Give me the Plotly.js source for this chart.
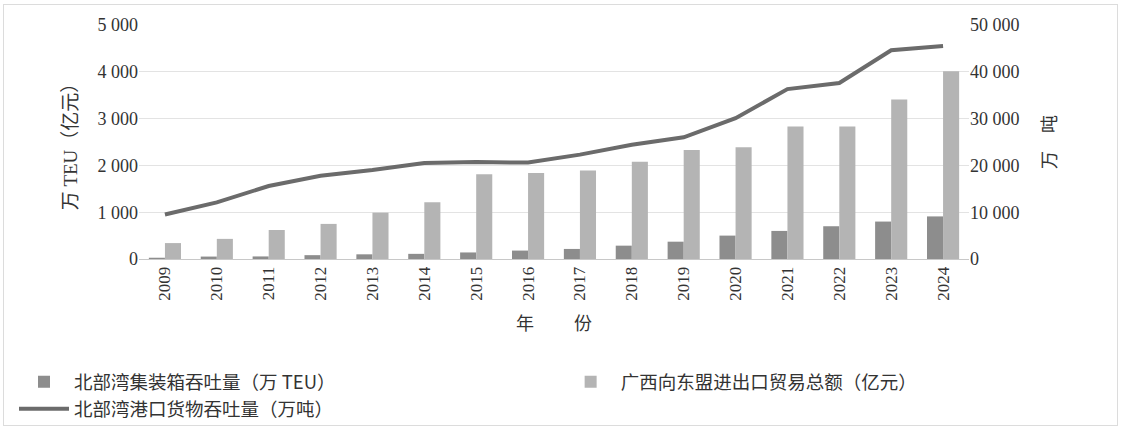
<!DOCTYPE html>
<html><head><meta charset="utf-8">
<script src="https://cdn.plot.ly/plotly-3.0.1.min.js"></script>
<style>
html,body{margin:0;padding:0;background:#fff;}
#frame{position:absolute;left:3px;top:4px;width:1113px;height:420px;border:1px solid #dcdcdc;}
#chart{position:absolute;left:0;top:0;width:1121px;height:429px;}
</style></head>
<body>
<div id="frame"></div>
<div id="chart"></div>
<script>
const years = ['2009','2010','2011','2012','2013','2014','2015','2016','2017','2018','2019','2020','2021','2022','2023','2024'];
const containerTEU = [27, 52, 55, 82, 100, 110, 140, 180, 215, 285, 370, 500, 600, 700, 800, 910];
const tradeASEAN = [340, 430, 620, 750, 990, 1210, 1810, 1840, 1890, 2080, 2330, 2390, 2830, 2830, 3410, 4010];
const cargoTons = [9500, 12100, 15600, 17800, 19000, 20500, 20700, 20600, 22300, 24400, 26000, 30100, 36300, 37600, 44600, 45500];

const serif = 'Liberation Serif, "Noto Sans CJK SC", serif';
const cjk = '"Noto Sans CJK SC", Liberation Serif, serif';
const txt = '#333333';

const traces = [
  {type:'bar', name:'北部湾集装箱吞吐量（万 TEU）', x:years, y:containerTEU, marker:{color:'#8d8d8d'}, yaxis:'y', legend:'legend'},
  {type:'bar', name:'广西向东盟进出口贸易总额（亿元）', x:years, y:tradeASEAN, marker:{color:'#b4b4b4'}, yaxis:'y', legend:'legend2'},
  {type:'scatter', mode:'lines', name:'北部湾港口货物吞吐量（万吨）', x:years, y:cargoTons, line:{color:'#6b6b6b', width:4}, yaxis:'y2', legend:'legend'}
];

const legendFont = {family:cjk, size:18.5, color:txt};

const layout = {
  width:1121, height:429,
  margin:{l:139, r:152, t:25, b:170, autoexpand:false},
  paper_bgcolor:'rgba(0,0,0,0)', plot_bgcolor:'rgba(0,0,0,0)',
  separators:'. ',
  font:{family:serif, size:15, color:txt},
  barmode:'group', bargap:0.38, bargroupgap:0,
  showlegend:true,
  legend:{orientation:'v', x:-0.1506, y:-0.445, xanchor:'left', yanchor:'top',
          tracegroupgap:0, font:legendFont, itemwidth:50, traceorder:'normal'},
  legend2:{orientation:'v', x:0.508, y:-0.445, xanchor:'left', yanchor:'top',
          font:legendFont, itemwidth:50},
  xaxis:{type:'category', tickangle:-90, showgrid:false, zeroline:false,
         showline:true, linecolor:'#c8c8c8', linewidth:1, ticks:'',
         tickfont:{family:serif, size:17, color:txt},
         title:{text:'年　　 份', font:{family:cjk, size:18, color:txt}, standoff:17}},
  yaxis:{range:[0,5000], tickvals:[0,1000,2000,3000,4000,5000], tickformat:',d',
         showgrid:true, gridcolor:'#e3e3e3', gridwidth:1, zeroline:false, showline:false, ticks:'',
         tickfont:{family:serif, size:18, color:txt},
         title:{text:'万 TEU（亿元）', font:{family:serif, size:19, color:txt}, standoff:14}},
  yaxis2:{overlaying:'y', side:'right', range:[0,50000], tickvals:[0,10000,20000,30000,40000,50000], tickformat:',d',
          showgrid:false, zeroline:false, showline:false, ticks:'',
          tickfont:{family:serif, size:18, color:txt},
          title:{text:'万　吨', font:{family:cjk, size:18, color:txt}, standoff:24}}
};

Plotly.newPlot('chart', traces, layout, {displayModeBar:false, staticPlot:true});
</script>
</body></html>
